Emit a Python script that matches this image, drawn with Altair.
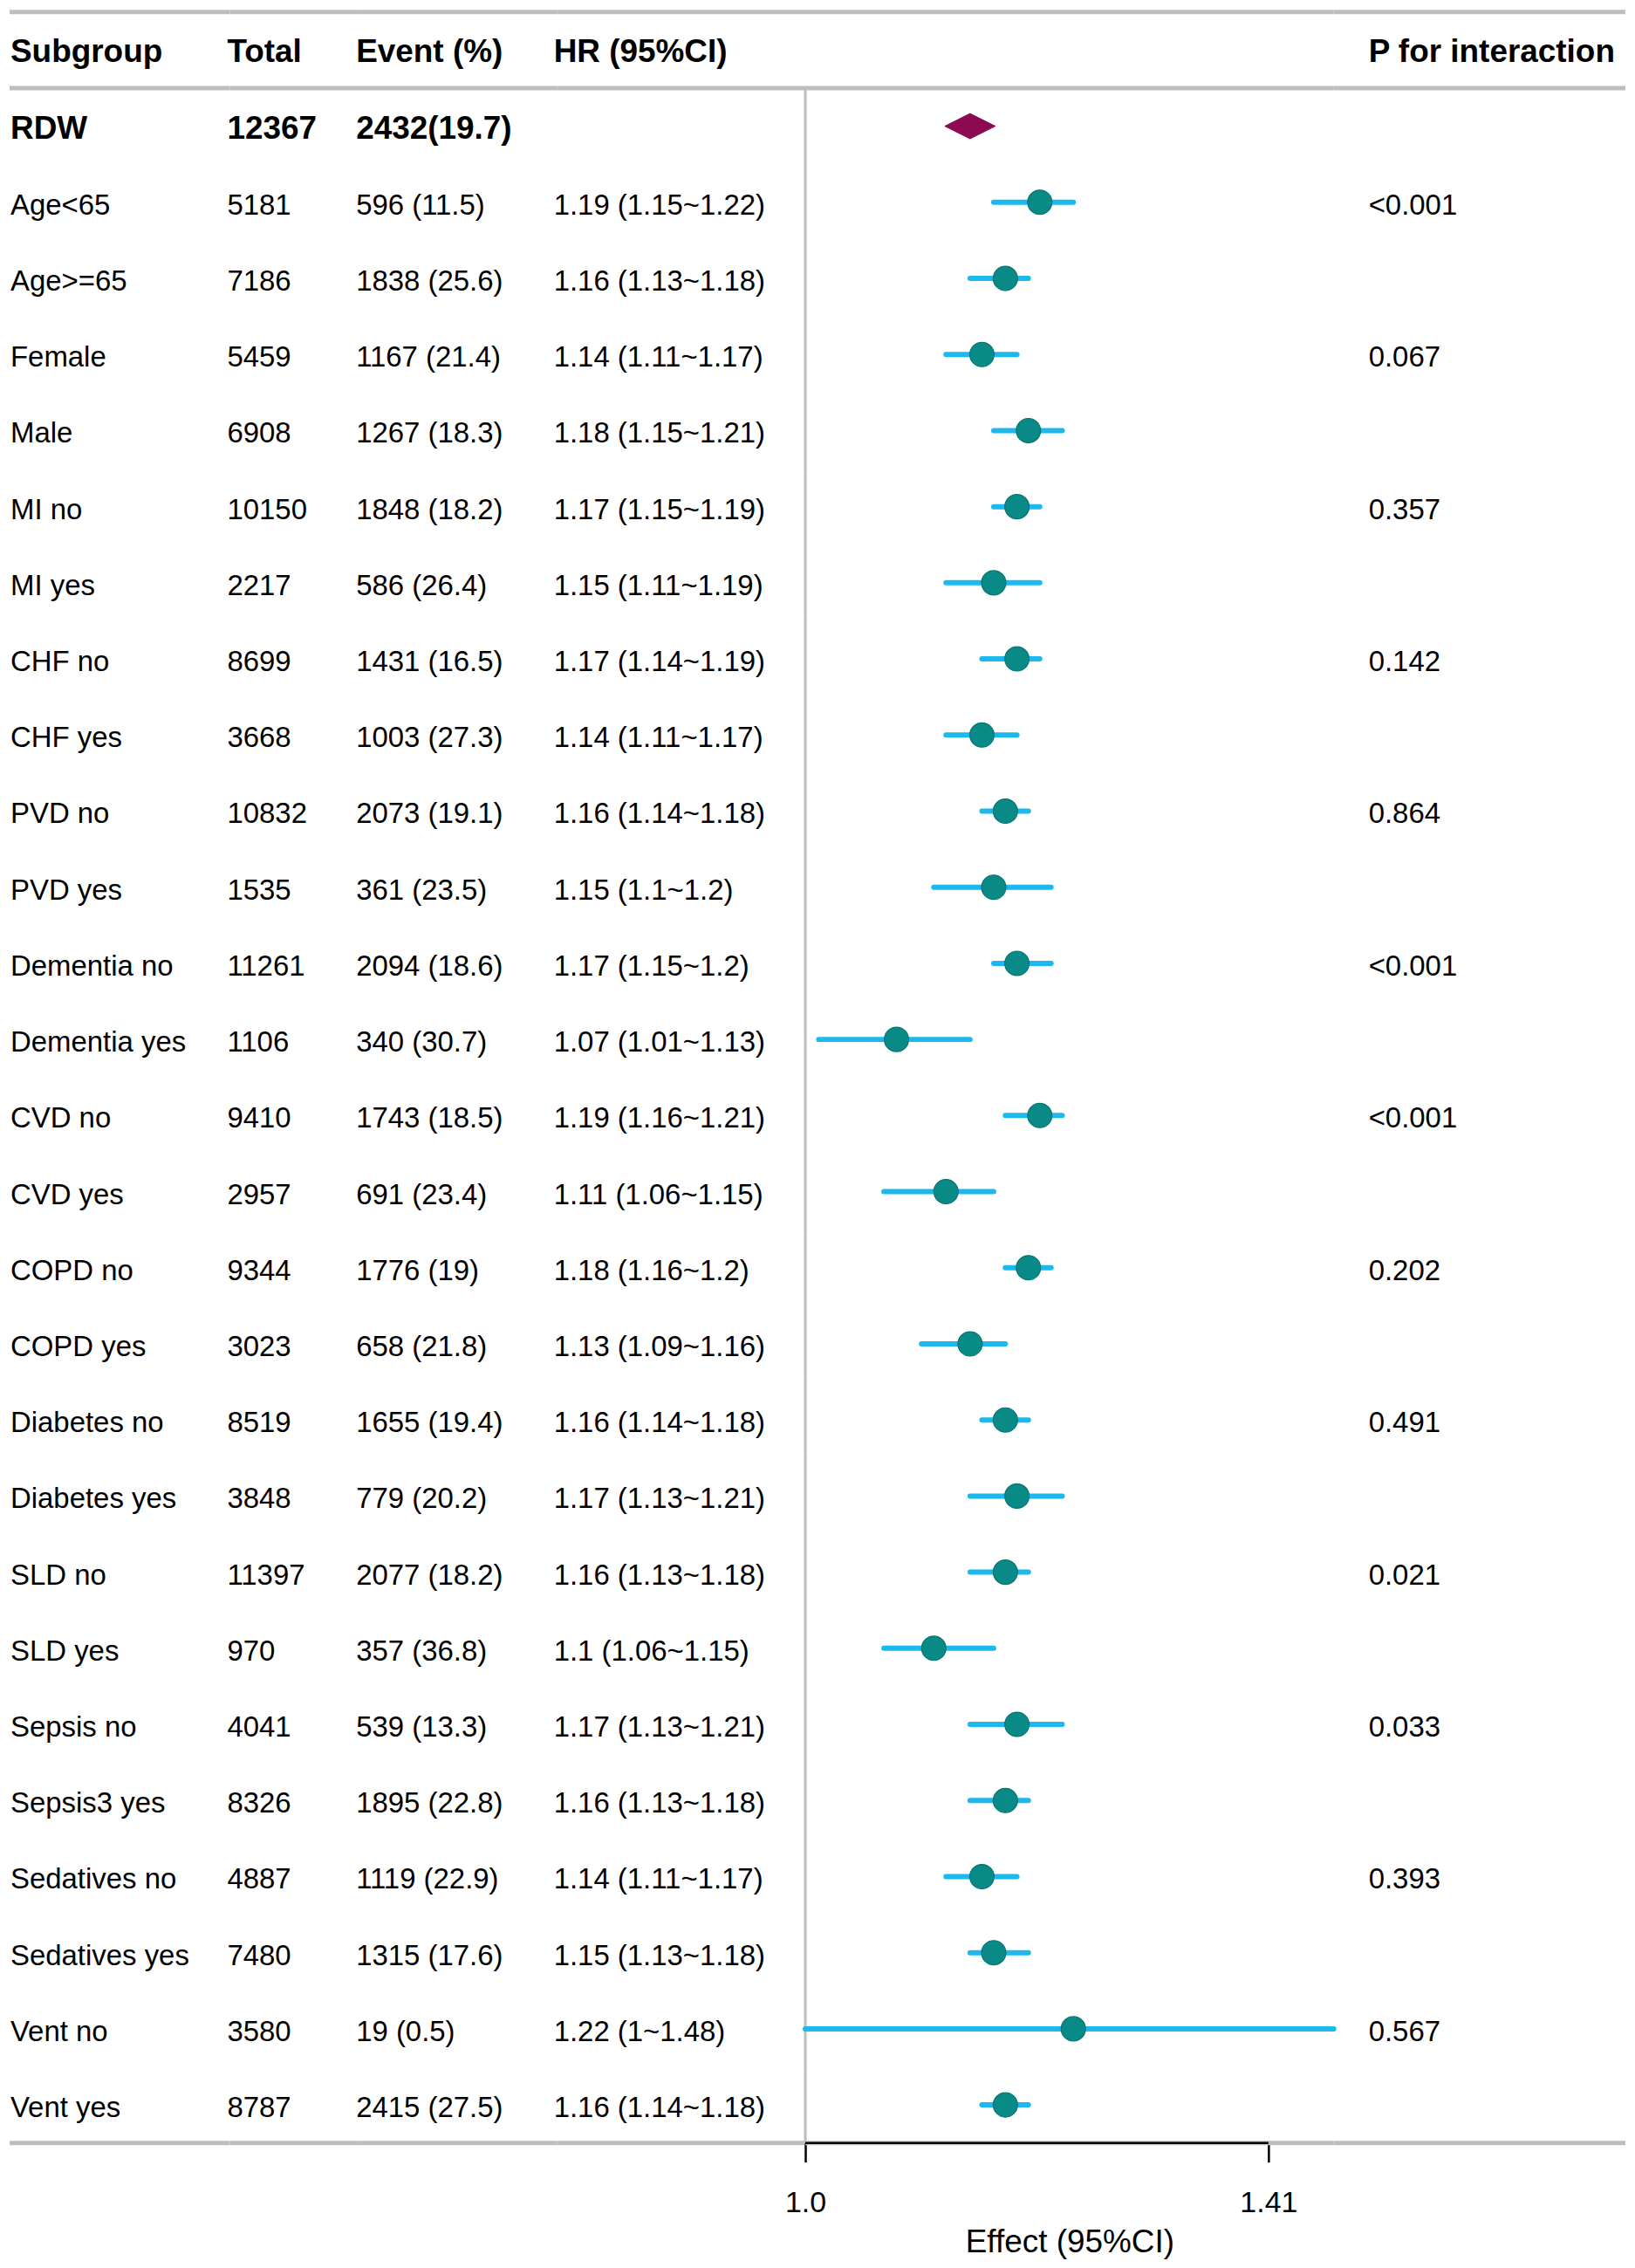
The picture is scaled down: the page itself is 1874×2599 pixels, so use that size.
import altair as alt
import pandas as pd

# ---------------- data ----------------
subgroups = ["RDW", "Age<65", "Age>=65", "Female", "Male", "MI no", "MI yes",
             "CHF no", "CHF yes", "PVD no", "PVD yes", "Dementia no", "Dementia yes",
             "CVD no", "CVD yes", "COPD no", "COPD yes", "Diabetes no", "Diabetes yes",
             "SLD no", "SLD yes", "Sepsis no", "Sepsis3 yes", "Sedatives no",
             "Sedatives yes", "Vent no", "Vent yes"]
totals = [12367, 5181, 7186, 5459, 6908, 10150, 2217, 8699, 3668, 10832, 1535,
          11261, 1106, 9410, 2957, 9344, 3023, 8519, 3848, 11397, 970, 4041, 8326,
          4887, 7480, 3580, 8787]
events = [2432, 596, 1838, 1167, 1267, 1848, 586, 1431, 1003, 2073, 361, 2094, 340,
          1743, 691, 1776, 658, 1655, 779, 2077, 357, 539, 1895, 1119, 1315, 19, 2415]
event_pct = [19.7, 11.5, 25.6, 21.4, 18.3, 18.2, 26.4, 16.5, 27.3, 19.1, 23.5, 18.6,
             30.7, 18.5, 23.4, 19, 21.8, 19.4, 20.2, 18.2, 36.8, 13.3, 22.8, 22.9,
             17.6, 0.5, 27.5]
hr = [1.13, 1.19, 1.16, 1.14, 1.18, 1.17, 1.15, 1.17, 1.14, 1.16, 1.15, 1.17, 1.07,
      1.19, 1.11, 1.18, 1.13, 1.16, 1.17, 1.16, 1.1, 1.17, 1.16, 1.14, 1.15, 1.22, 1.16]
lo = [1.11, 1.15, 1.13, 1.11, 1.15, 1.15, 1.11, 1.14, 1.11, 1.14, 1.1, 1.15, 1.01,
      1.16, 1.06, 1.16, 1.09, 1.14, 1.13, 1.13, 1.06, 1.13, 1.13, 1.11, 1.13, 1.0, 1.14]
hi = [1.15, 1.22, 1.18, 1.17, 1.21, 1.19, 1.19, 1.19, 1.17, 1.18, 1.2, 1.2, 1.13,
      1.21, 1.15, 1.2, 1.16, 1.18, 1.21, 1.18, 1.15, 1.21, 1.18, 1.17, 1.18, 1.48, 1.18]
p_int = ["", "<0.001", "", "0.067", "", "0.357", "", "0.142", "", "0.864", "",
         "<0.001", "", "<0.001", "", "0.202", "", "0.491", "", "0.021", "", "0.033",
         "", "0.393", "", "0.567", ""]
headers = ["Subgroup", "Total", "Event (%)", "HR (95%CI)", "P for interaction"]
x_ticks = [1.0, 1.41]


def fmt(v):
    return f"{v:g}"


recs = [dict(key="__hdr__", sub=headers[0], total=headers[1], event=headers[2],
             hrtxt=headers[3], ptxt=headers[4], bold=1, kind="header")]
for i, s in enumerate(subgroups):
    overall = i == 0
    recs.append(dict(
        key=s, sub=s, total=str(totals[i]),
        event=(f"{events[i]}({fmt(event_pct[i])})" if overall
               else f"{events[i]} ({fmt(event_pct[i])})"),
        hrtxt="" if overall else f"{fmt(hr[i])} ({fmt(lo[i])}~{fmt(hi[i])})",
        ptxt=p_int[i], bold=1 if overall else 0,
        kind="overall" if overall else "sub",
        hr=hr[i], lo=lo[i], hi=hi[i]))
df = pd.DataFrame(recs)
keys = list(df["key"])

# ---------------- style ----------------
FONT = "Liberation Sans"
GRAY = "#BEBEBE"
CI_COL = "#1CB8EE"
DOT_COL = "#0A8A86"
DOT_EDGE = "#067572"
DIA_COL = "#8B0A50"
STEP = 87.4
H = STEP * len(keys)

yscale = alt.Scale(domain=keys, paddingInner=0, paddingOuter=0)


def Y(bp=None):
    if bp is None:
        return alt.Y("key:N", scale=yscale, axis=None)
    return alt.Y("key:N", scale=yscale, axis=None, bandPosition=bp)


base = alt.Chart(df)
last_key = keys[-1]


def grid_lines():
    top = base.transform_filter("datum.kind != 'sub'").mark_rule(
        color=GRAY, strokeWidth=5, strokeCap="butt").encode(y=Y(0))
    bottom = base.transform_filter(f"datum.key == '{last_key}'").mark_rule(
        color=GRAY, strokeWidth=5, strokeCap="butt").encode(y=Y(1))
    return [top, bottom]


def text_panel(field, width, dx):
    reg = base.transform_filter("datum.bold == 0").mark_text(
        align="left", baseline="alphabetic", dx=dx, dy=14, font=FONT,
        fontSize=33, color="black").encode(y=Y(), x=alt.value(0),
                                           text=alt.Text(f"{field}:N"))
    bold = base.transform_filter("datum.bold == 1").mark_text(
        align="left", baseline="alphabetic", dx=dx, dy=14, font=FONT,
        fontSize=37, fontWeight="bold", color="black").encode(
        y=Y(), x=alt.value(0), text=alt.Text(f"{field}:N"))
    return alt.layer(*grid_lines(), reg, bold).properties(width=width, height=H)


xscale = alt.Scale(type="log", domain=[1.0, 1.48], nice=False, zero=False)
xaxis = alt.Axis(values=x_ticks, labelExpr="datum.value == 1 ? '1.0' : '' + datum.value",
                 domain=False, grid=False, ticks=True, tickSize=22, tickWidth=2.5,
                 tickColor="black", labelFont=FONT, labelFontSize=34,
                 labelColor="black", labelPadding=30, labelFlush=False,
                 title="Effect (95%CI)", titleFont=FONT, titleFontSize=37,
                 titleFontWeight="normal", titleColor="black", titlePadding=10)

rows = base.transform_filter("datum.kind != 'header'")
subs = base.transform_filter("datum.kind == 'sub'")

ref = rows.mark_tick(color=GRAY, thickness=3, size=STEP + 1, opacity=1).encode(
    x=alt.X(datum=1.0, type="quantitative", scale=xscale, axis=xaxis), y=Y())
ci = subs.mark_rule(color=CI_COL, strokeWidth=6, strokeCap="round").encode(
    x=alt.X("lo:Q", scale=xscale, axis=xaxis), x2="hi:Q", y=Y())
pts = subs.mark_point(shape="circle", filled=True, size=780, fill=DOT_COL,
                      stroke=DOT_EDGE, strokeWidth=1.2, opacity=1).encode(
    x=alt.X("hr:Q", scale=xscale, axis=xaxis), y=Y())
dia = base.transform_filter("datum.kind == 'overall'").mark_point(
    shape="M-1,0L0,-0.5L1,0L0,0.5Z", filled=True, size=3364, fill=DIA_COL,
    stroke=DIA_COL, strokeWidth=1, opacity=1).encode(
    x=alt.X("hr:Q", scale=xscale, axis=xaxis), y=Y())
axis_line = base.transform_filter(f"datum.key == '{last_key}'").mark_rule(
    color="black", strokeWidth=2.5).encode(
    x=alt.X(datum=x_ticks[0], type="quantitative", scale=xscale, axis=xaxis),
    x2=alt.X2Datum(x_ticks[1]), y=Y(1))

forest = alt.layer(*grid_lines(), ref, ci, pts, dia, axis_line).properties(
    width=607, height=H)

pA = text_panel("sub", 253, 1)
pB = text_panel("total", 147, -3)
pC = text_panel("event", 229, -2)
pD = text_panel("hrtxt", 285, -4)
pF = text_panel("ptxt", 335, 40)

chart = alt.hconcat(pA, pB, pC, pD, forest, pF, spacing=0, bounds="flush").properties(
    padding={"left": 0, "top": 0, "right": 0, "bottom": 0}
).configure_view(stroke=None)

chart.save("out.html", embed_options={"renderer": "svg", "actions": False})
